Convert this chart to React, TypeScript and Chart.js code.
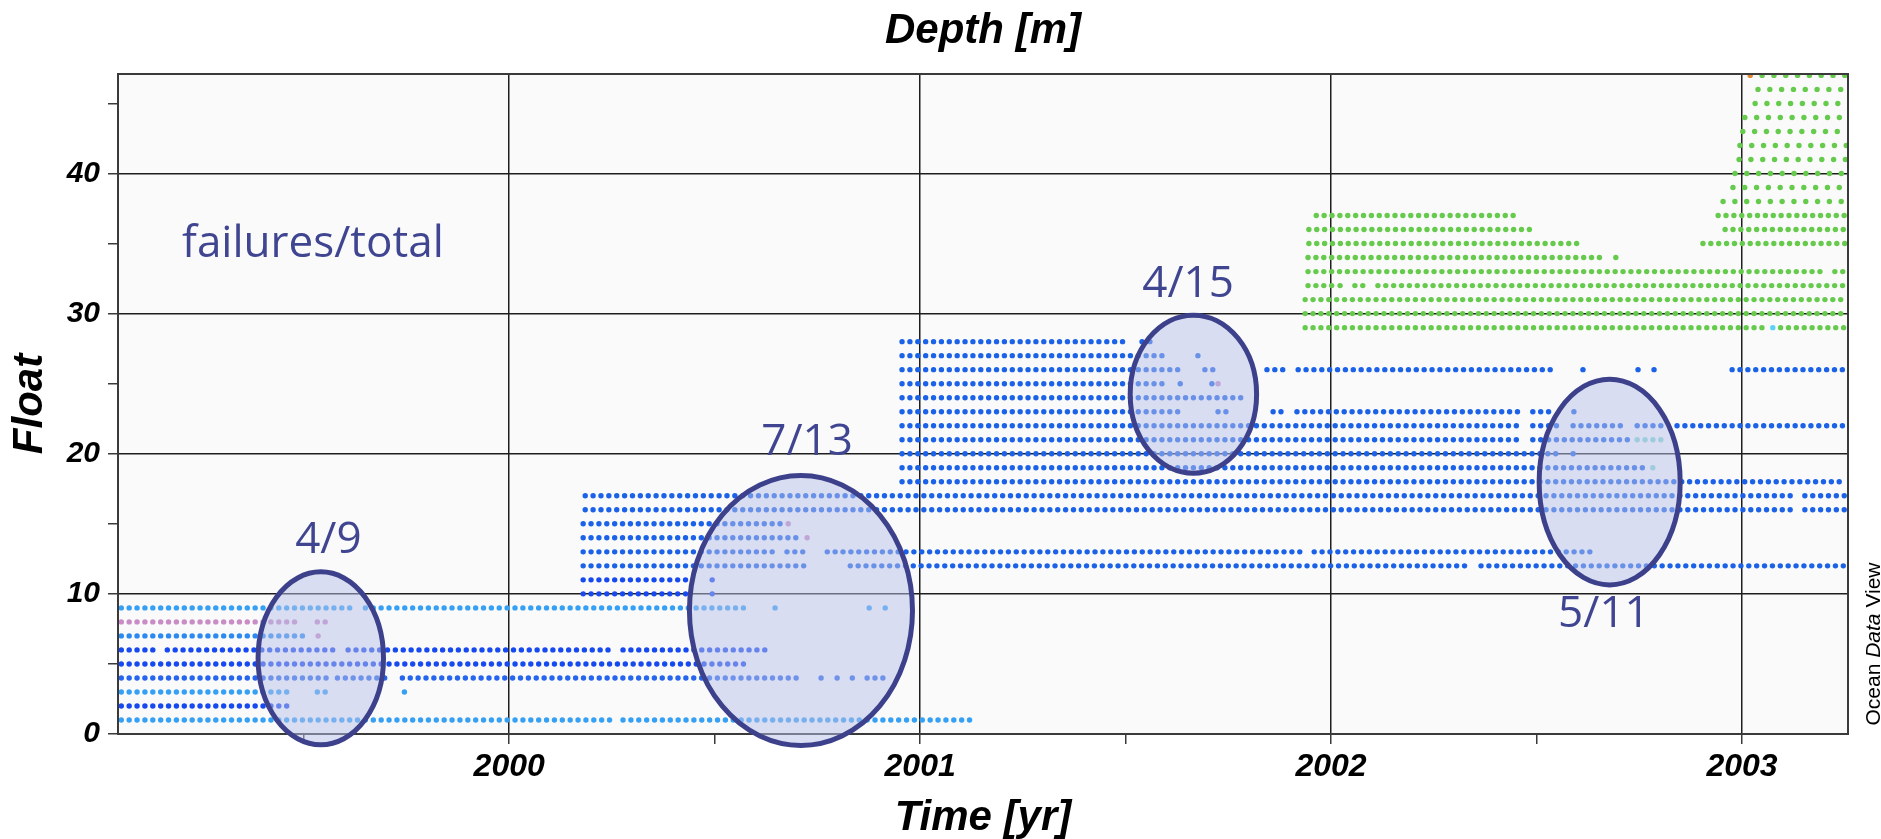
import React, { useEffect, useRef } from "react";
import { Chart, registerables } from "chart.js";

Chart.register(...registerables);

// ---------- axes ----------
const X_MIN = 1999.048;
const X_MAX = 2003.258;
const Y_MIN = 0;
const Y_MAX = 47.1;
const X_TICKS = [1999.5, 2000, 2000.5, 2001, 2001.5, 2002, 2002.5, 2003];
const Y_TICKS = [0, 5, 10, 15, 20, 25, 30, 35, 40, 45];

// ---------- data: profiling periods per float (decimal years) ----------
const FLOAT_SEGMENTS: number[][][] = [
  /* 1 */ [[1999.056, 2000.251], [2000.277, 2001.129]],
  /* 2 */ [[1999.056, 1999.462]],
  /* 3 */ [[1999.056, 1999.467], [1999.533, 1999.557], [1999.745, 1999.745]],
  /* 4 */ [[1999.056, 1999.557], [1999.582, 1999.71], [1999.74, 2000.708], [2000.759, 2000.759], [2000.798, 2000.798], [2000.835, 2000.835], [2000.871, 2000.92]],
  /* 5 */ [[1999.056, 2000.574]],
  /* 6 */ [[1999.056, 1999.139], [1999.168, 1999.582], [1999.608, 2000.251], [2000.277, 2000.63]],
  /* 7 */ [[1999.056, 1999.504]],
  /* 8 */ [[1999.056, 1999.484], [1999.533, 1999.557]],
  /* 9 */ [[1999.056, 1999.618], [1999.65, 2000.574], [2000.647, 2000.647], [2000.876, 2000.876], [2000.915, 2000.915]],
  /* 10 */ [[2000.18, 2000.436], [2000.494, 2000.494]],
  /* 11 */ [[2000.18, 2000.436], [2000.494, 2000.494]],
  /* 12 */ [[2000.18, 2000.725], [2000.83, 2002.336], [2002.365, 2003.255]],
  /* 13 */ [[2000.18, 2000.652], [2000.676, 2000.725], [2000.774, 2001.932], [2001.959, 2002.642]],
  /* 14 */ [[2000.18, 2000.708]],
  /* 15 */ [[2000.18, 2000.66]],
  /* 16 */ [[2000.185, 2003.124], [2003.153, 2003.255]],
  /* 17 */ [[2000.185, 2003.124], [2003.153, 2003.255]],
  /* 18 */ [[2000.956, 2003.243]],
  /* 19 */ [[2000.956, 2002.765]],
  /* 20 */ [[2000.956, 2002.552], [2002.589, 2002.589]],
  /* 21 */ [[2000.956, 2002.465], [2002.491, 2002.726]],
  /* 22 */ [[2000.956, 2002.465], [2002.491, 2002.552], [2002.589, 2002.71], [2002.745, 2002.805], [2002.842, 2003.255]],
  /* 23 */ [[2000.956, 2001.637], [2001.725, 2001.749], [2001.859, 2001.883], [2001.917, 2002.465], [2002.491, 2002.538], [2002.591, 2002.591]],
  /* 24 */ [[2000.956, 2001.791]],
  /* 25 */ [[2000.956, 2001.596], [2001.633, 2001.633], [2001.71, 2001.71]],
  /* 26 */ [[2000.956, 2001.637], [2001.693, 2001.713], [2001.844, 2001.883], [2001.92, 2002.54], [2002.613, 2002.613], [2002.747, 2002.747], [2002.786, 2002.786], [2002.976, 2003.255]],
  /* 27 */ [[2000.956, 2001.601], [2001.676, 2001.676]],
  /* 28 */ [[2000.956, 2001.506], [2001.54, 2001.564]],
  /* 29 */ [[2001.937, 2003.056], [2003.094, 2003.255]],
  /* 30 */ [[2001.937, 2003.255]],
  /* 31 */ [[2001.937, 2003.255]],
  /* 32 */ [[2001.944, 2002.005], [2002.022, 2002.022], [2002.058, 2002.078], [2002.114, 2003.255]],
  /* 33 */ [[2001.944, 2003.192], [2003.226, 2003.255]],
  /* 34 */ [[2001.944, 2002.659], [2002.693, 2002.693]],
  /* 35 */ [[2001.946, 2002.601], [2002.905, 2003.255]],
  /* 36 */ [[2001.946, 2002.489], [2002.959, 2003.255]],
  /* 37 */ [[2001.964, 2002.453], [2002.942, 2003.255]],
  /* 38 */ [[2002.954, 2003.255]],
  /* 39 */ [[2002.978, 2003.255]],
  /* 40 */ [[2002.983, 2003.255]],
  /* 41 */ [[2002.993, 2003.255]],
  /* 42 */ [[2002.995, 2003.255]],
  /* 43 */ [[2003.002, 2003.255]],
  /* 44 */ [[2003.007, 2003.255]],
  /* 45 */ [[2003.032, 2003.255]],
  /* 46 */ [[2003.039, 2003.255]],
  /* 47 */ [[2003.049, 2003.255]],
];

// profiling cycle of each float, days
const FLOAT_CYCLE_DAYS = [
  7, 7, 7, 7, 7, 7, 7, 7, 7, 7,
  7, 7, 7, 7, 7, 7, 7, 7, 7, 7,
  7, 7, 7, 7, 7, 7, 7, 7, 7, 7,
  7, 7, 7, 7, 7, 7, 7, 10.5, 10.5, 10.5,
  10.5, 10.5, 10.5, 10.5, 10.5, 10.5, 10.5,
];

// depth colour class of each float
const C_LIGHT = "#36a0f4";
const C_DARK = "#1749f0";
const C_MID = "#1b62e8";
const C_MAUVE = "#c88cc6";
const C_GREEN = "#66cb4c";
const C_TEAL = "#86d8d2";
const C_CYAN = "#58d4f2";
const C_ORANGE = "#e0873a";
const FLOAT_COLORS = [
  C_LIGHT, C_DARK, C_LIGHT, "#2665ee", C_DARK, C_DARK, "#2b8af1", C_MAUVE, C_LIGHT, C_DARK,
  C_DARK, C_MID, C_MID, C_MID, C_MID, C_MID, C_MID, C_MID, C_MID, C_MID,
  C_MID, C_MID, C_MID, C_MID, C_MID, C_MID, C_MID, C_MID, C_GREEN, C_GREEN,
  C_GREEN, C_GREEN, C_GREEN, C_GREEN, C_GREEN, C_GREEN, C_GREEN, C_GREEN, C_GREEN, C_GREEN,
  C_GREEN, C_GREEN, C_GREEN, C_GREEN, C_GREEN, C_GREEN, C_GREEN,
];

// isolated profiles of a different depth class: [float, start, end]
const SPECIAL_SEGMENTS = [
  [7, 1999.535, 1999.535],
  [14, 2000.725, 2000.725],
  [15, 2000.679, 2000.679],
  [19, 2002.783, 2002.783],
  [21, 2002.745, 2002.808],
  [25, 2001.725, 2001.725],
  [29, 2003.075, 2003.075],
  [47, 2003.02, 2003.02],
];
const SPECIAL_COLORS = [C_MAUVE, C_MAUVE, C_MAUVE, C_TEAL, C_TEAL, C_MAUVE, C_CYAN, C_ORANGE];

// ---------- annotations (data coordinates) ----------
const ELLIPSE_T = [1999.5415, 2000.71, 2001.665, 2002.678];
const ELLIPSE_V = [5.4, 8.81, 24.25, 17.98];
const ELLIPSE_RT = [0.1526, 0.2714, 0.1538, 0.1716];
const ELLIPSE_RV = [6.17, 9.63, 5.64, 7.34];

const NOTE_TEXT = ["failures/total", "4/9", "7/13", "4/15", "5/11"];
const NOTE_T = [1999.204, 1999.56, 2000.725, 2001.652, 2002.664];
const NOTE_V = [34.05, 12.93, 19.93, 31.2, 7.67];
const NOTE_ALIGN = ["left", "center", "center", "center", "center"];

const SANS = "'Liberation Sans', Arial, Helvetica, sans-serif";
const DOT_RADIUS = 2.7;

function buildDatasets() {
  const sets: any[] = [];
  FLOAT_SEGMENTS.forEach((segs, i) => {
    const f = i + 1;
    const dt = FLOAT_CYCLE_DAYS[i] / 365.25;
    const data: { x: number; y: number }[] = [];
    segs.forEach(([s, e]) => {
      for (let t = s; t <= e + 1e-6; t += dt) data.push({ x: t, y: f });
    });
    sets.push({
      label: "Float " + f,
      data,
      pointBackgroundColor: FLOAT_COLORS[i],
      pointRadius: DOT_RADIUS,
      pointBorderWidth: 0,
      pointHoverRadius: 0,
      showLine: false,
      clip: 0,
    });
  });
  SPECIAL_SEGMENTS.forEach(([f, s, e], k) => {
    const dt = FLOAT_CYCLE_DAYS[f - 1] / 365.25;
    const data: { x: number; y: number }[] = [];
    for (let t = s; t <= e + 1e-6; t += dt) data.push({ x: t, y: f });
    sets.push({
      label: "Float " + f + " *",
      data,
      pointBackgroundColor: SPECIAL_COLORS[k],
      pointRadius: DOT_RADIUS,
      pointBorderWidth: 0,
      pointHoverRadius: 0,
      showLine: false,
      clip: 0,
    });
  });
  return sets;
}

const overlayPlugin = {
  id: "odvOverlay",
  beforeDraw(chart: any) {
    const { ctx, chartArea: a } = chart;
    ctx.save();
    ctx.fillStyle = "#ffffff";
    ctx.fillRect(0, 0, chart.width, chart.height);
    ctx.fillStyle = "#fafafa";
    ctx.fillRect(a.left, a.top, a.right - a.left, a.bottom - a.top);
    ctx.restore();
  },
  afterDatasetsDraw(chart: any) {
    const { ctx, chartArea: a } = chart;
    const xs = chart.scales.x;
    const ys = chart.scales.y;
    ctx.save();
    // frame
    ctx.strokeStyle = "#3a3a3a";
    ctx.lineWidth = 2;
    ctx.strokeRect(a.left, a.top, a.right - a.left, a.bottom - a.top);
    // ellipses
    ELLIPSE_T.forEach((t, i) => {
      const cx = xs.getPixelForValue(t);
      const cy = ys.getPixelForValue(ELLIPSE_V[i]);
      const rx = Math.abs(xs.getPixelForValue(t + ELLIPSE_RT[i]) - cx);
      const ry = Math.abs(ys.getPixelForValue(ELLIPSE_V[i] + ELLIPSE_RV[i]) - cy);
      ctx.beginPath();
      ctx.ellipse(cx, cy, rx, ry, 0, 0, Math.PI * 2);
      ctx.fillStyle = "rgba(184,192,231,0.5)";
      ctx.fill();
      ctx.lineWidth = 5;
      ctx.strokeStyle = "#3d418b";
      ctx.stroke();
    });
    // notes
    ctx.fillStyle = "#3f4590";
    ctx.font = "44px 'Open Sans', 'Noto Sans', sans-serif";
    ctx.textBaseline = "alphabetic";
    NOTE_TEXT.forEach((txt, i) => {
      ctx.textAlign = NOTE_ALIGN[i] as CanvasTextAlign;
      ctx.fillText(txt, xs.getPixelForValue(NOTE_T[i]), ys.getPixelForValue(NOTE_V[i]));
    });
    ctx.restore();
  },
  afterDraw(chart: any) {
    const { ctx, chartArea: a } = chart;
    const cx = (a.left + a.right) / 2;
    const cy = (a.top + a.bottom) / 2;
    ctx.save();
    ctx.fillStyle = "#000";
    ctx.font = `italic bold 42px ${SANS}`;
    ctx.textAlign = "center";
    ctx.textBaseline = "alphabetic";
    ctx.fillText("Depth [m]", cx, 43);
    ctx.fillText("Time [yr]", cx, 830);
    ctx.save();
    ctx.translate(42, cy);
    ctx.rotate(-Math.PI / 2);
    ctx.fillText("Float", 0, 0);
    ctx.restore();
    // Ocean Data View
    ctx.save();
    ctx.translate(1880, 644);
    ctx.rotate(-Math.PI / 2);
    const parts = [
      ["Ocean ", `21px ${SANS}`],
      ["Data", `italic 21px ${SANS}`],
      [" View", `21px ${SANS}`],
    ];
    let total = 0;
    parts.forEach(([t, f]) => {
      ctx.font = f;
      total += ctx.measureText(t).width;
    });
    let x = -total / 2;
    ctx.textAlign = "left";
    parts.forEach(([t, f]) => {
      ctx.font = f;
      ctx.fillText(t, x, 0);
      x += ctx.measureText(t).width;
    });
    ctx.restore();
    ctx.restore();
  },
};

export default function App() {
  const ref = useRef<HTMLCanvasElement>(null);
  useEffect(() => {
    if (!ref.current) return;
    const chart = new Chart(ref.current, {
      type: "scatter",
      data: { datasets: buildDatasets() },
      options: {
        responsive: false,
        animation: false,
        events: [],
        layout: { padding: { top: 74, right: 33, left: 0, bottom: 0 } },
        plugins: {
          legend: { display: false },
          tooltip: { enabled: false },
          title: { display: false },
        },
        scales: {
          x: {
            type: "linear",
            min: X_MIN,
            max: X_MAX,
            afterBuildTicks: (s: any) => {
              s.ticks = X_TICKS.map((v) => ({ value: v }));
            },
            afterFit: (s: any) => {
              s.height = 105;
            },
            ticks: {
              autoSkip: false,
              maxRotation: 0,
              padding: 4,
              color: "#000",
              font: { family: SANS, size: 32, style: "italic", weight: "bold" },
              callback: (v: any) => (Number.isInteger(v) ? String(v) : ""),
            },
            grid: {
              color: (c: any) => (c.tick && Number.isInteger(c.tick.value) ? "#1e1e1e" : "rgba(0,0,0,0)"),
              tickColor: "#3a3a3a",
              lineWidth: 1.5,
              tickLength: 10,
              drawTicks: true,
            },
            border: { display: false },
          },
          y: {
            type: "linear",
            min: Y_MIN,
            max: Y_MAX,
            afterBuildTicks: (s: any) => {
              s.ticks = Y_TICKS.map((v) => ({ value: v }));
            },
            afterFit: (s: any) => {
              s.width = 118;
            },
            ticks: {
              autoSkip: false,
              padding: 8,
              color: "#000",
              font: { family: SANS, size: 30, style: "italic", weight: "bold" },
              callback: (v: any) => (v % 10 === 0 ? String(v) : ""),
            },
            grid: {
              color: (c: any) => (c.tick && c.tick.value % 10 === 0 && c.tick.value > 0 ? "#1e1e1e" : "rgba(0,0,0,0)"),
              tickColor: "#3a3a3a",
              lineWidth: 1.5,
              tickLength: 10,
              drawTicks: true,
            },
            border: { display: false },
          },
        },
      },
      plugins: [overlayPlugin],
    } as any);
    return () => chart.destroy();
  }, []);
  return (
    <div style={{ position: "fixed", left: 0, top: 0, width: 1881, height: 839, background: "#fff" }}>
      <canvas ref={ref} width={1881} height={839} style={{ display: "block", width: 1881, height: 839 }} />
    </div>
  );
}
